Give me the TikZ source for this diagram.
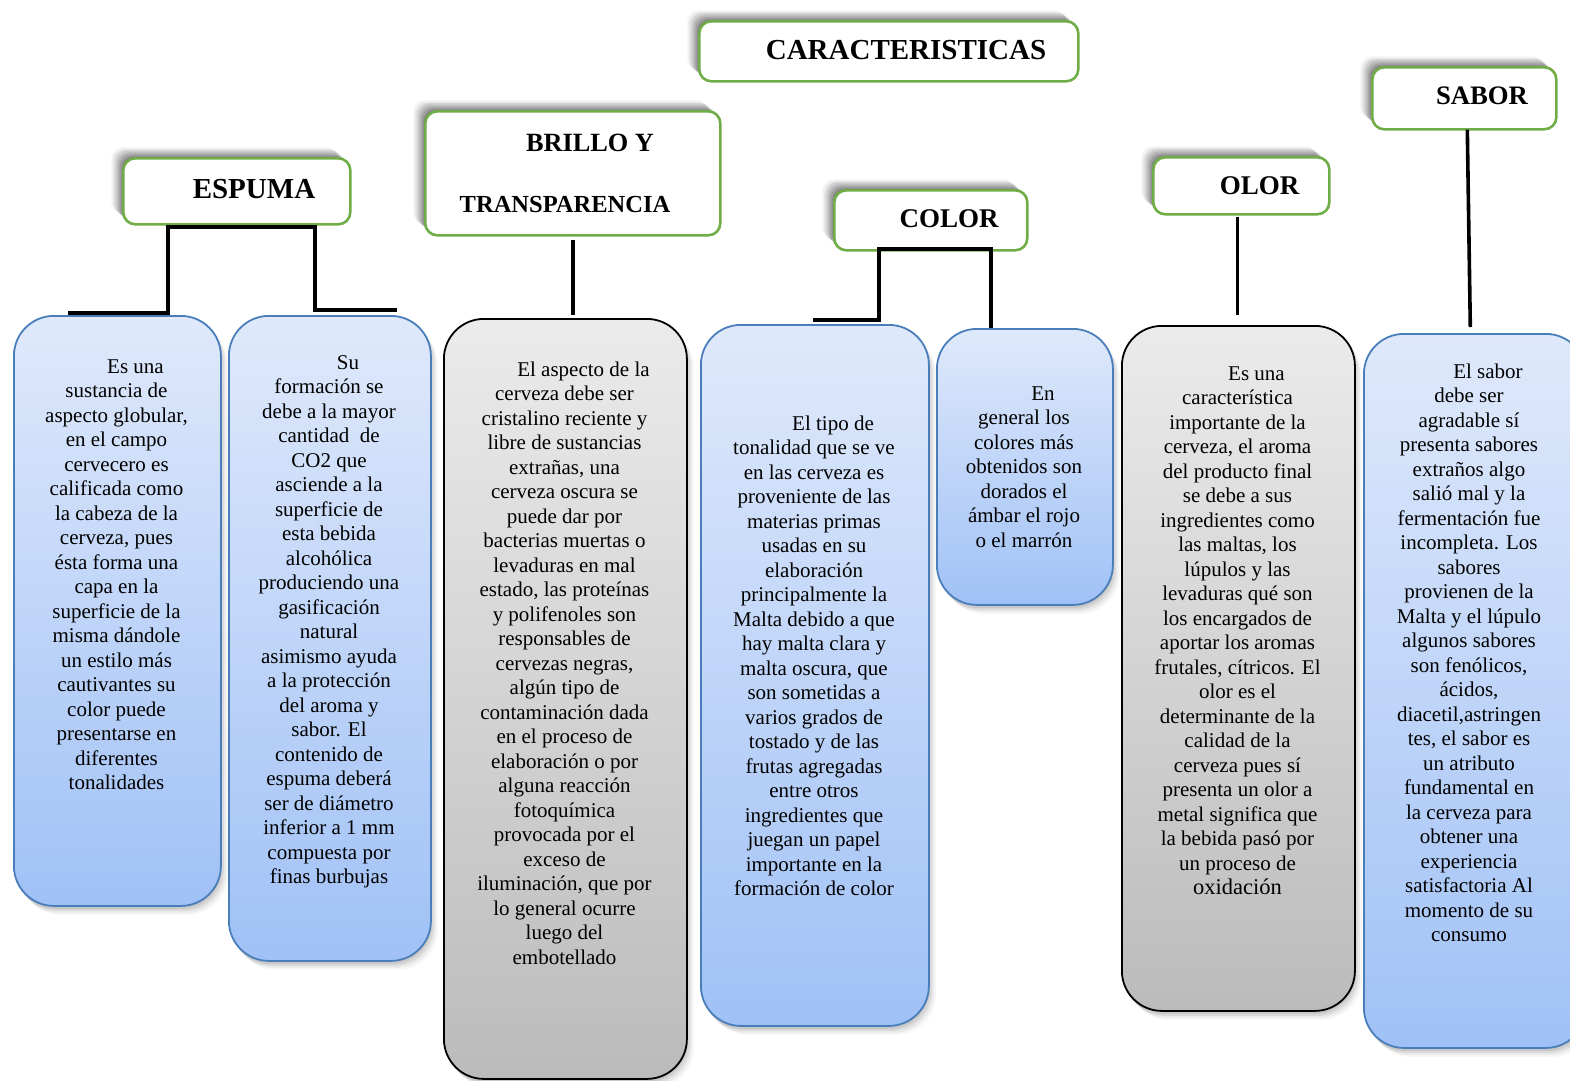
\documentclass[tikz,border=0pt]{standalone}
\usepackage{fontspec}
\setmainfont{Liberation Serif}
\usetikzlibrary{shadows}
\definecolor{hgreen}{RGB}{112,173,71}
\definecolor{bborder}{RGB}{74,126,187}
\definecolor{btop}{RGB}{223,233,251}
\definecolor{bbot}{RGB}{160,193,246}
\definecolor{gtop}{RGB}{235,235,235}
\definecolor{gbot}{RGB}{187,187,187}
\begin{document}
\begin{tikzpicture}[x=1pt,y=-1pt,
  headbox/.style={draw=hgreen, line width=2.6pt, rounded corners=12pt, fill=white,
    anchor=north west, inner sep=0pt,
    general shadow={fill=black, opacity=.05, shadow xshift=-12pt, shadow yshift=11pt},
    general shadow={fill=black, opacity=.07, shadow xshift=-10pt, shadow yshift=9pt},
    general shadow={fill=black, opacity=.09, shadow xshift=-8pt, shadow yshift=8pt},
    general shadow={fill=black, opacity=.11, shadow xshift=-6pt, shadow yshift=6pt},
    general shadow={fill=black, opacity=.13, shadow xshift=-4pt, shadow yshift=4pt},
    general shadow={fill=black, opacity=.15, shadow xshift=-2pt, shadow yshift=2pt}},
  headtext/.style={font=\bfseries, inner sep=0pt},
  bodybox/.style={rounded corners=40pt, line width=1.8pt, anchor=north west, inner sep=0pt,
    general shadow={fill=black, opacity=.03, shadow xshift=7pt, shadow yshift=-9pt},
    general shadow={fill=black, opacity=.05, shadow xshift=5pt, shadow yshift=-7pt},
    general shadow={fill=black, opacity=.07, shadow xshift=3pt, shadow yshift=-5pt},
    general shadow={fill=black, opacity=.08, shadow xshift=1pt, shadow yshift=-3pt}},
  bluebox/.style={bodybox, draw=bborder, top color=btop, bottom color=bbot},
  graybox/.style={bodybox, draw=black, top color=gtop, bottom color=gbot},
  bodytext/.style={font=\fontsize{21}{24.5}\selectfont, align=center, anchor=north, inner sep=0pt},
  conn/.style={draw=black, line width=3.6pt}]
\useasboundingbox (0,0) rectangle (1570,1080);

% ---------- body boxes ----------
\node[bluebox, minimum width=207pt, minimum height=590pt] (b1) at (13,315) {};
\node[bluebox, minimum width=202pt, minimum height=645pt] (b2) at (228,315) {};
\node[graybox, minimum width=243pt, minimum height=760pt] (b3) at (443,318) {};
\node[bluebox, minimum width=228pt, minimum height=701pt] (b4) at (700,324) {};
\node[bluebox, minimum width=176pt, minimum height=276pt] (b5) at (936,328) {};
\node[graybox, minimum width=233pt, minimum height=685pt] (b6) at (1121,325) {};
\node[bluebox, minimum width=222pt, minimum height=714pt] (b7) at (1363,333) {};

% ---------- header boxes ----------
\node[headbox, minimum width=379pt, minimum height=60pt] (hT) at (698,20) {};
\node[headbox, minimum width=227pt, minimum height=66pt] (hE) at (122,157) {};
\node[headbox, minimum width=295pt, minimum height=124pt] (hB) at (424,110) {};
\node[headbox, minimum width=193pt, minimum height=60pt] (hC) at (833,189) {};
\node[headbox, minimum width=176pt, minimum height=57pt] (hO) at (1152,156) {};
\node[headbox, minimum width=184pt, minimum height=62pt] (hS) at (1371,66) {};

\node[headtext, font=\fontsize{29}{34}\selectfont\bfseries] (tT) at (906,50) {CARACTERISTICAS};
\node[headtext, font=\fontsize{29}{34}\selectfont\bfseries] (tE) at (254,189) {ESPUMA};
\node[headtext, font=\fontsize{26.3}{30}\selectfont\bfseries] (tB1) at (590,143) {BRILLO Y};
\node[headtext, font=\fontsize{24.5}{30}\selectfont\bfseries] (tB2) at (565,205) {TRANSPARENCIA};
\node[headtext, font=\fontsize{27}{32}\selectfont\bfseries] (tC) at (949,219) {COLOR};
\node[headtext, font=\fontsize{27}{32}\selectfont\bfseries] (tO) at (1259.5,186) {OLOR};
\node[headtext, font=\fontsize{26.7}{32}\selectfont\bfseries] (tS) at (1482,96) {SABOR};

% ---------- body texts ----------
\node[bodytext] (x1) at (116.5,356) {\strut\hspace*{38pt}Es una\\ sustancia de\\ aspecto globular,\\ en el campo\\ cervecero es\\ calificada como\\ la cabeza de la\\ cerveza, pues\\ ésta forma una\\ capa en la\\ superficie de la\\ misma dándole\\ un estilo más\\ cautivantes su\\ color puede\\ presentarse en\\ diferentes\\ tonalidades};

\node[bodytext] (x2) at (329,352) {\strut\hspace*{38pt}Su\\ formación se\\ debe a la mayor\\ cantidad~~de\\ CO2 que\\ asciende a la\\ superficie de\\ esta bebida\\ alcohólica\\ produciendo una\\ gasificación\\ natural\\ asimismo ayuda\\ a la protección\\ del aroma y\\ sabor. El\\ contenido de\\ espuma deberá\\ ser de diámetro\\ inferior a 1 mm\\ compuesta por\\ finas burbujas};

\node[bodytext] (x3) at (564.5,359) {\strut\hspace*{38pt}El aspecto de la\\ cerveza debe ser\\ cristalino reciente y\\ libre de sustancias\\ extrañas, una\\ cerveza oscura se\\ puede dar por\\ bacterias muertas o\\ levaduras en mal\\ estado, las proteínas\\ y polifenoles son\\ responsables de\\ cervezas negras,\\ algún tipo de\\ contaminación dada\\ en el proceso de\\ elaboración o por\\ alguna reacción\\ fotoquímica\\ provocada por el\\ exceso de\\ iluminación, que por\\ lo general ocurre\\ luego del\\ embotellado};

\node[bodytext] (x4) at (814,413) {\strut\hspace*{38pt}El tipo de\\ tonalidad que se ve\\ en las cerveza es\\ proveniente de las\\ materias primas\\ usadas en su\\ elaboración\\ principalmente la\\ Malta debido a que\\ hay malta clara y\\ malta oscura, que\\ son sometidas a\\ varios grados de\\ tostado y de las\\ frutas agregadas\\ entre otros\\ ingredientes que\\ juegan un papel\\ importante en la\\ formación de color};

\node[bodytext] (x5) at (1024,383) {\strut\hspace*{38pt}En\\ general los\\ colores más\\ obtenidos son\\ dorados el\\ ámbar el rojo\\ o el marrón};

\node[bodytext] (x6) at (1237.5,363) {\strut\hspace*{38pt}Es una\\ característica\\ importante de la\\ cerveza, el aroma\\ del producto final\\ se debe a sus\\ ingredientes como\\ las maltas, los\\ lúpulos y las\\ levaduras qué son\\ los encargados de\\ aportar los aromas\\ frutales, cítricos. El\\ olor es el\\ determinante de la\\ calidad de la\\ cerveza pues sí\\ presenta un olor a\\ metal significa que\\ la bebida pasó por\\ un proceso de\\ {\fontsize{22.5}{24.5}\selectfont oxidación}};

\node[bodytext] (x7) at (1469,361) {\strut\hspace*{38pt}El sabor\\ debe ser\\ agradable sí\\ presenta sabores\\ extraños algo\\ salió mal y la\\ fermentación fue\\ incompleta. Los\\ sabores\\ provienen de la\\ Malta y el lúpulo\\ algunos sabores\\ son fenólicos,\\ ácidos,\\ diacetil,astringen\\ tes, el sabor es\\ un atributo\\ fundamental en\\ la cerveza para\\ obtener una\\ experiencia\\ satisfactoria Al\\ momento de su\\ consumo};

% ---------- connectors ----------
\coordinate (eA) at (68,313);
\coordinate (eL) at (168,227);
\coordinate (eR) at (315,227);
\coordinate (eB) at (397,310);
\draw[conn] (eA) -| (eL) -- (eR) |- (eB);

\draw[conn] ([yshift=-3pt]hB.south) -- ([yshift=3pt]hB.south |- b3.north);

\coordinate (cA) at (813,320);
\coordinate (cL) at (879,249);
\coordinate (cR) at (991,249);
\draw[conn] (cA) -| (cL) -- (cR) -- (cR |- b5.north);

\draw[conn] ([xshift=-4pt,yshift=-1pt]hO.south) -- ([xshift=-4pt,yshift=10pt]hO.south |- b6.north);

\draw[conn] ([xshift=3pt,yshift=1pt]hS.south) -- ([xshift=6pt,yshift=6pt]hS.south |- b7.north);
\end{tikzpicture}
\end{document}
